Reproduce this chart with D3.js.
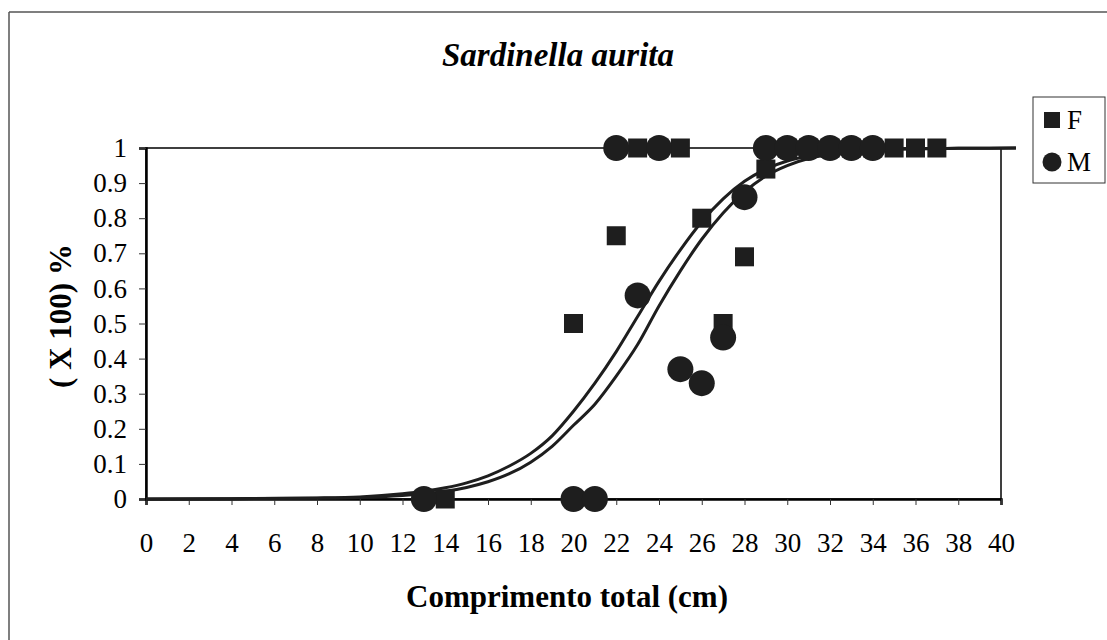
<!DOCTYPE html>
<html>
<head>
<meta charset="utf-8">
<script src="https://cdn.jsdelivr.net/npm/d3@7"></script>
<style>
  body { margin: 0; background: #fff; }
  svg { display: block; }
</style>
</head>
<body>
<svg id="chart" width="1107" height="640"></svg>
<script>
const femaleLength = [14, 20, 22, 23, 24, 25, 26, 27, 28, 29, 30, 31, 32, 33, 34, 35, 36, 37];
const femaleProp = [0, 0.5, 0.75, 1, 1, 1, 0.8, 0.5, 0.69, 0.94, 1, 1, 1, 1, 1, 1, 1, 1];
const maleLength = [13, 20, 21, 22, 23, 24, 25, 26, 27, 28, 29, 30, 31, 32, 33, 34];
const maleProp = [0, 0, 0, 1, 0.58, 1, 0.37, 0.33, 0.46, 0.86, 1, 1, 1, 1, 1, 1];

// fitted curves, values
const curveLength = [0, 4, 8, 10, 12, 13, 14, 15, 16, 17, 18, 19, 20, 21, 22, 23, 24, 25, 26, 27, 28, 29, 30, 31, 32, 33, 34, 36, 38, 40.7];
const femaleFit = [0, 0.001, 0.003, 0.006, 0.015, 0.022, 0.032, 0.046, 0.066, 0.094, 0.13, 0.18, 0.25, 0.33, 0.42, 0.52, 0.62, 0.71, 0.79, 0.855, 0.905, 0.94, 0.963, 0.977, 0.986, 0.991, 0.995, 0.998, 0.999, 1];
const maleFit = [0, 0.001, 0.002, 0.004, 0.01, 0.015, 0.022, 0.033, 0.049, 0.072, 0.105, 0.15, 0.21, 0.27, 0.35, 0.44, 0.55, 0.65, 0.74, 0.815, 0.875, 0.92, 0.95, 0.97, 0.982, 0.99, 0.994, 0.998, 0.999, 1];

const xTicks = d3.range(0, 41, 2);
const yTicks = [0, 0.1, 0.2, 0.3, 0.4, 0.5, 0.6, 0.7, 0.8, 0.9, 1];

const svg = d3.select("#chart");
const font = "'Liberation Serif', 'Times New Roman', serif";
const ink = "#1e1e1e";

const x = d3.scaleLinear().domain([0, 40]).range([146, 1001]);
const y = d3.scaleLinear().domain([0, 1]).range([499, 148]);

// outer frame (only top and left edges show on the scan)
svg.append("line").attr("x1", 9).attr("x2", 1107).attr("y1", 12).attr("y2", 12)
    .attr("stroke", "#555").attr("stroke-width", 1.5);
svg.append("line").attr("x1", 9).attr("x2", 9).attr("y1", 12).attr("y2", 640)
    .attr("stroke", "#555").attr("stroke-width", 1.5);

// plot frame
svg.append("rect")
    .attr("x", x(0)).attr("y", y(1))
    .attr("width", x(40) - x(0)).attr("height", y(0) - y(1))
    .attr("fill", "none").attr("stroke", "#000").attr("stroke-width", 1.5);

// axes
const yAxis = svg.append("g")
    .attr("transform", "translate(" + x(0) + ",0)")
    .call(d3.axisLeft(y).tickValues(yTicks).tickSize(7).tickPadding(12).tickFormat(d => String(d)));
const xAxis = svg.append("g")
    .attr("transform", "translate(0," + y(0) + ")")
    .call(d3.axisBottom(x).tickValues(xTicks).tickSize(6).tickPadding(28).tickFormat(d => String(d)));

[xAxis, yAxis].forEach(a => {
    a.select(".domain").attr("stroke", "#000").attr("stroke-width", 2.5);
    a.selectAll(".tick line").attr("stroke", "#333").attr("stroke-width", 1);
    a.selectAll("text").attr("font-family", font).attr("font-size", 27).attr("fill", "#000");
});

// fitted curves
const line = d3.line()
    .x((d, i) => x(curveLength[i]))
    .y(d => y(d))
    .curve(d3.curveMonotoneX);

[femaleFit, maleFit].forEach(vals => {
    svg.append("path")
        .attr("d", line(vals))
        .attr("fill", "none")
        .attr("stroke", ink)
        .attr("stroke-width", 3);
});

// markers
const sq = 19;
svg.append("g").selectAll("rect")
    .data(femaleLength)
    .join("rect")
    .attr("x", (d, i) => x(d) - sq / 2)
    .attr("y", (d, i) => y(femaleProp[i]) - sq / 2)
    .attr("width", sq).attr("height", sq)
    .attr("fill", ink);

svg.append("g").selectAll("circle")
    .data(maleLength)
    .join("circle")
    .attr("cx", d => x(d))
    .attr("cy", (d, i) => y(maleProp[i]))
    .attr("r", 13)
    .attr("fill", ink);

// titles
svg.append("text")
    .attr("x", 558).attr("y", 66)
    .attr("text-anchor", "middle")
    .attr("font-family", font).attr("font-size", 33)
    .attr("font-weight", "bold").attr("font-style", "italic")
    .text("Sardinella aurita");

svg.append("text")
    .attr("x", 567).attr("y", 607)
    .attr("text-anchor", "middle")
    .attr("font-family", font).attr("font-size", 31)
    .attr("font-weight", "bold")
    .text("Comprimento total (cm)");

svg.append("text")
    .attr("transform", "translate(60,316) rotate(-90)")
    .attr("text-anchor", "middle")
    .attr("dy", "0.35em")
    .attr("font-family", font).attr("font-size", 31)
    .attr("font-weight", "bold")
    .text("( X 100) %");

// legend
const legend = svg.append("g");
legend.append("rect")
    .attr("x", 1033).attr("y", 97).attr("width", 72).attr("height", 86)
    .attr("fill", "#fff").attr("stroke", "#333").attr("stroke-width", 1);
legend.append("rect")
    .attr("x", 1044).attr("y", 112).attr("width", 16).attr("height", 16)
    .attr("fill", ink);
legend.append("circle")
    .attr("cx", 1052).attr("cy", 162).attr("r", 9.5)
    .attr("fill", ink);
legend.selectAll("text")
    .data(["F", "M"])
    .join("text")
    .attr("x", 1067)
    .attr("y", (d, i) => [120, 162][i])
    .attr("dy", "0.35em")
    .attr("font-family", font).attr("font-size", 27)
    .text(d => d);
</script>
</body>
</html>
